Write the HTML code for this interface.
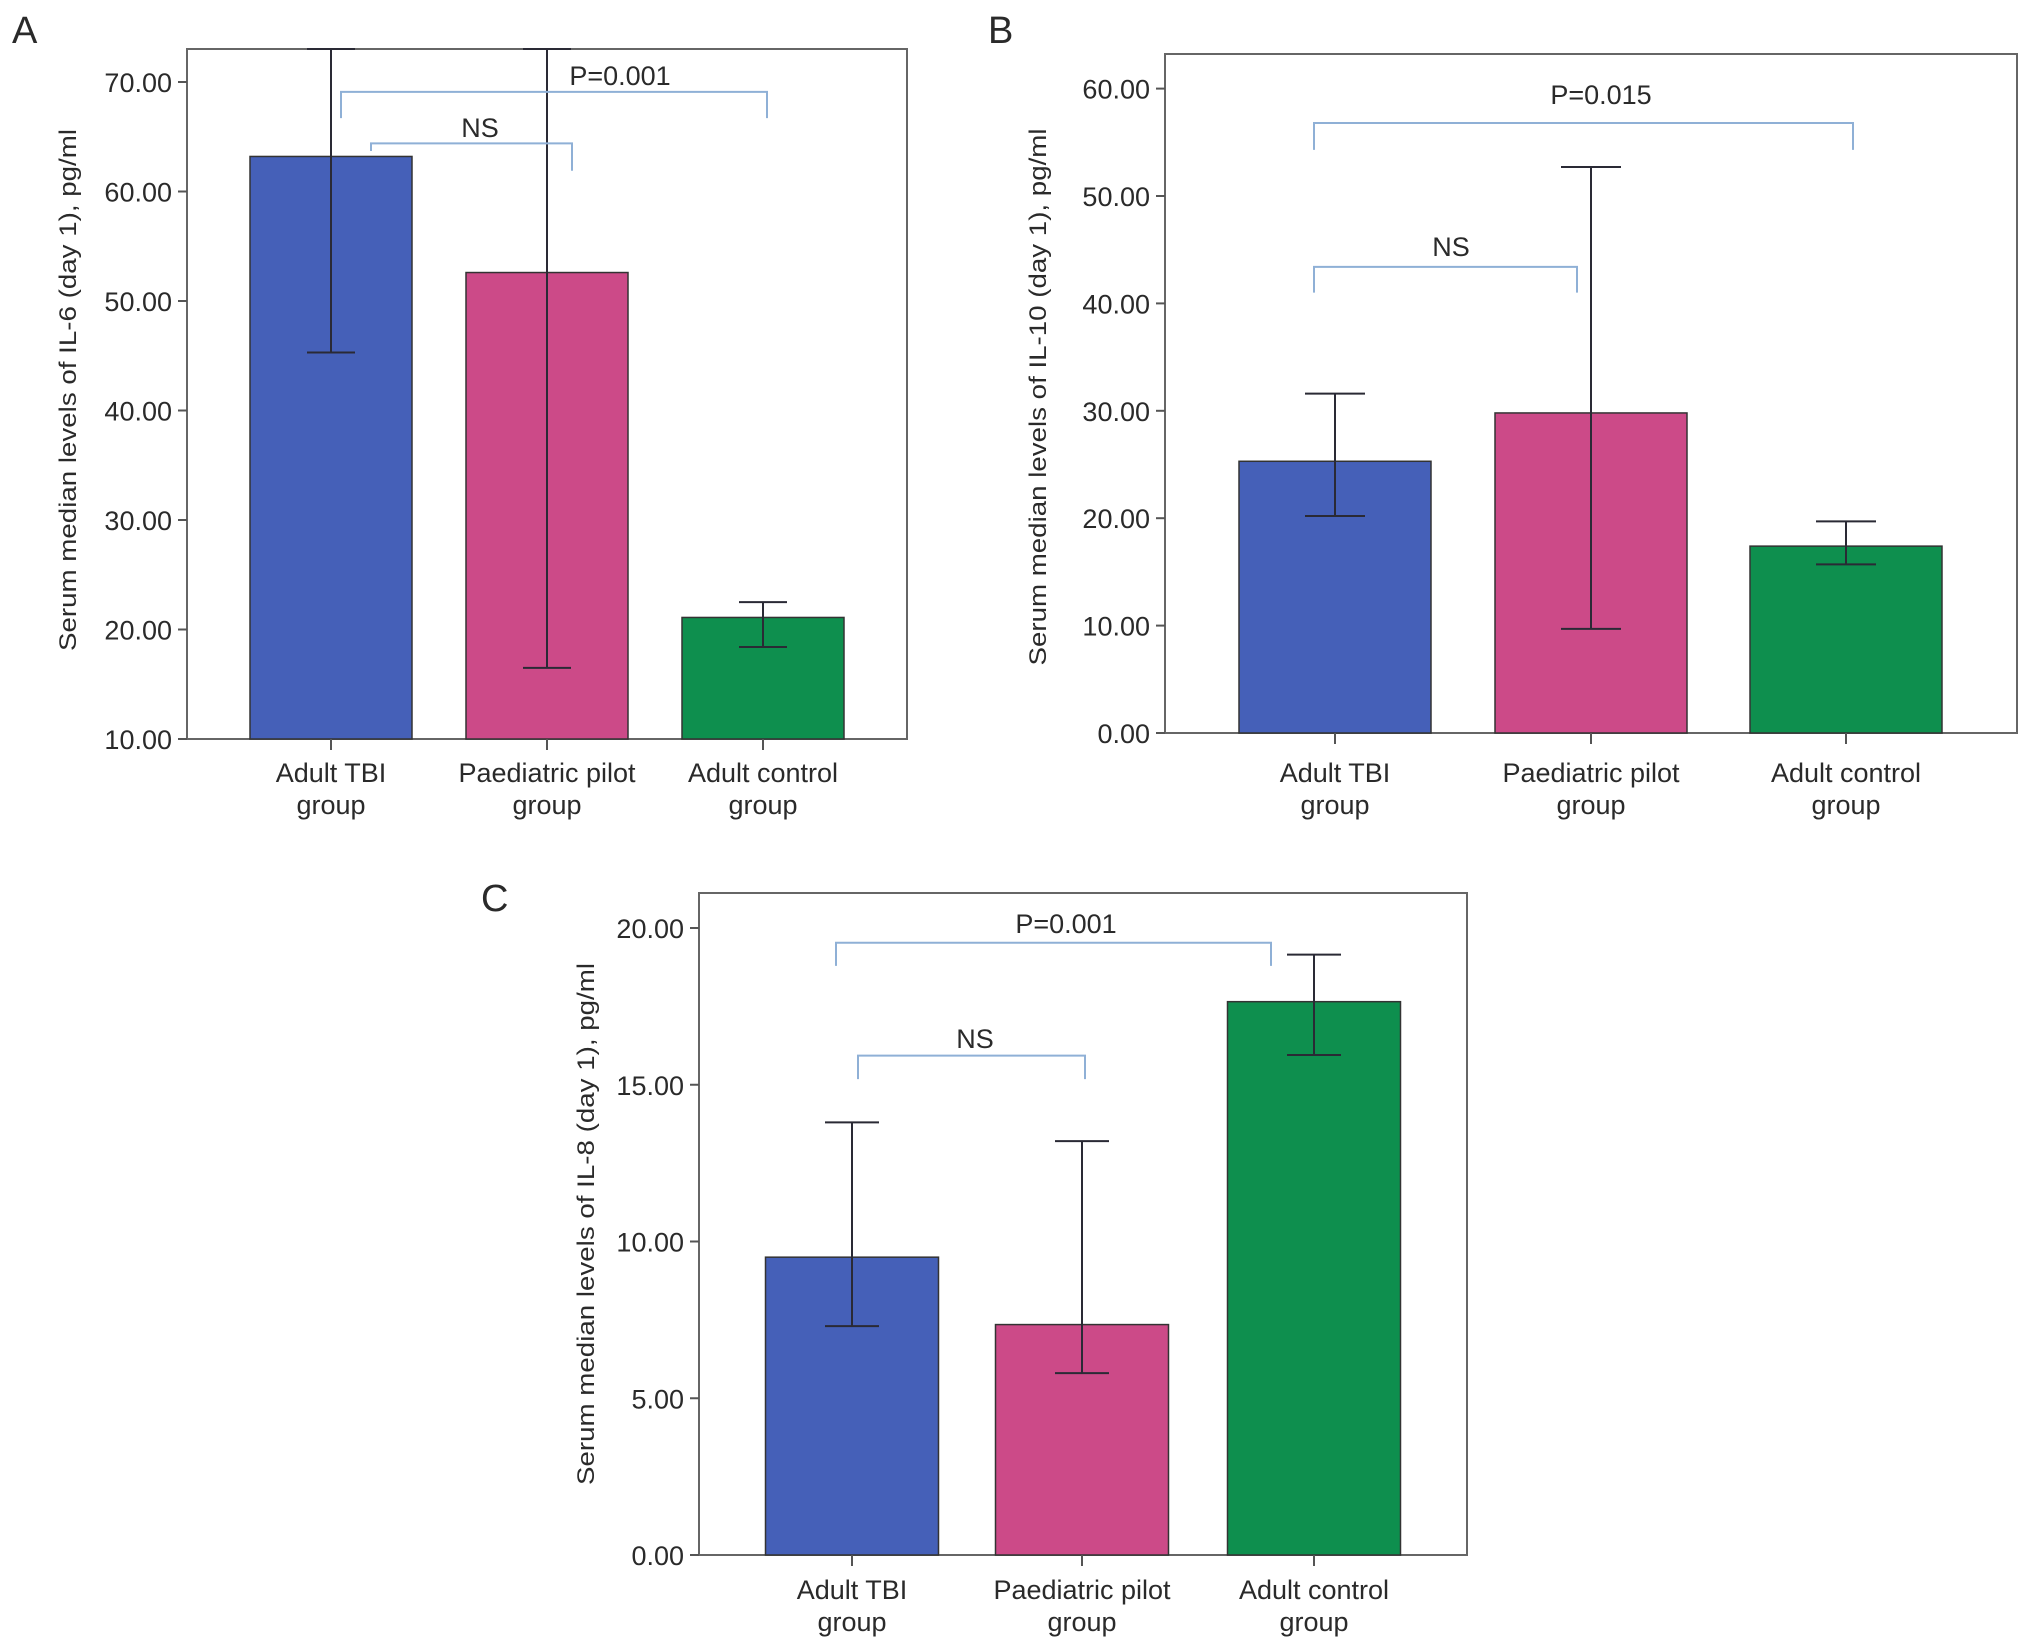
<!DOCTYPE html>
<html><head><meta charset="utf-8"><style>
html,body{margin:0;padding:0;background:#fff}
svg{display:block}
text{font-family:"Liberation Sans",sans-serif;fill:#2a2a2a}
</style></head><body>
<svg id="fig" width="2032" height="1652" viewBox="0 0 2032 1652" xmlns="http://www.w3.org/2000/svg"></svg>
<script>
const categories = ["Adult TBI|group", "Paediatric pilot|group", "Adult control|group"];
const il6Values = [63.2, 52.6, 21.1];
const il6Lower = [45.3, 16.5, 18.4];
const il6Upper = [73.1, 73.1, 22.5];
const il6Ticks = [10, 20, 30, 40, 50, 60, 70];
const il10Values = [25.3, 29.8, 17.4];
const il10Lower = [20.2, 9.7, 15.7];
const il10Upper = [31.6, 52.7, 19.7];
const il10Ticks = [0, 10, 20, 30, 40, 50, 60];
const il8Values = [9.5, 7.35, 17.65];
const il8Lower = [7.3, 5.8, 15.95];
const il8Upper = [13.8, 13.2, 19.15];
const il8Ticks = [0, 5, 10, 15, 20];
const colors = ["#4560b8", "#cc4a88", "#0e8f4e"];

const NS = "http://www.w3.org/2000/svg";
const svg = document.getElementById("fig");
function mk(tag, attrs, parent, txt){
  const e = document.createElementNS(NS, tag);
  for (const k in attrs) e.setAttribute(k, attrs[k]);
  if (txt !== undefined) e.textContent = txt;
  (parent||svg).appendChild(e);
  return e;
}

function panel(cfg){
  const g = mk("g", {});
  
  
  const y = v => cfg.bottom - (v - cfg.vmin) * cfg.ppu;
  const lbl = mk("text", {x: cfg.labelX, y: cfg.labelY, "font-size": 38}, g, cfg.letter);
  
  
  const fr = mk("rect", {x: cfg.left, y: cfg.top, width: cfg.right - cfg.left, height: cfg.bottom - cfg.top, fill: "none", stroke: "#666", "stroke-width": 2}, g);
  
  
  cfg.ticks.forEach(t => {
    const tk = mk("line", {x1: cfg.left - 9, x2: cfg.left, y1: y(t), y2: y(t), stroke: "#555", "stroke-width": 2}, g);
    
    
    const tl = mk("text", {x: cfg.left - 15, y: y(t) + 10, "font-size": 27, "text-anchor": "end"}, g, t.toFixed(2));
    
    
  });
  const at = mk("text", {transform: `translate(${cfg.titleX},${cfg.titleY}) rotate(-90)`, "font-size": 24, "text-anchor": "middle", textLength: cfg.titleLen, lengthAdjust: "spacingAndGlyphs"}, g, cfg.title);
  
  
  cfg.values.forEach((v, i) => {
    const cx = cfg.centers[i];
    const b = mk("rect", {x: cx - cfg.bw/2, y: y(v), width: cfg.bw, height: cfg.bottom - y(v), fill: colors[i], stroke: "#333", "stroke-width": 1.5}, g);
    
    
    const lo = y(cfg.lower[i]), hi = Math.max(y(cfg.upper[i]), cfg.top);
    const eb = mk("path", {d: `M${cx},${lo}V${hi}M${cx-cfg.cap/2},${lo}H${cx+cfg.cap/2}M${cx-cfg.cap/2},${hi}H${cx+cfg.cap/2}`, stroke: "#2a2a35", "stroke-width": 2, fill: "none"}, g);
    
    
    const xt = mk("line", {x1: cx, x2: cx, y1: cfg.bottom, y2: cfg.bottom + 11, stroke: "#555", "stroke-width": 2}, g);
    
    
    const parts = categories[i].split("|");
    const c1 = mk("text", {x: cx, y: cfg.catY, "font-size": 27, "text-anchor": "middle"}, g, parts[0]);
    
    
    const c2 = mk("text", {x: cx, y: cfg.catY + 32, "font-size": 27, "text-anchor": "middle"}, g, parts[1]);
    
    
  });
  cfg.brackets.forEach(br => {
    const p = mk("path", {d: `M${br.x1},${y(br.l1)}V${y(br.v)}H${br.x2}V${y(br.l2)}`, stroke: "#8fb0d6", "stroke-width": 2, fill: "none"}, g);
    
    
    const t = mk("text", {x: br.tx, y: br.ty, "font-size": 27, "text-anchor": "middle"}, g, br.label);
    
    
  });
}

panel({id: "il6", letter: "A", labelX: 12, labelY: 43, left: 187, right: 907, top: 49, bottom: 739, vmin: 10, ppu: 10.95, catY: 782,
  ticks: il6Ticks, values: il6Values, lower: il6Lower, upper: il6Upper, centers: [331, 547, 763], bw: 162, cap: 48,
  title: "Serum median levels of IL-6 (day 1), pg/ml", titleX: 76, titleY: 390, titleLen: 522,
  brackets: [{x1: 341, x2: 767, v: 69.1, l1: 66.7, l2: 66.7, label: "P=0.001", tx: 620, ty: 85},
             {x1: 371, x2: 572, v: 64.4, l1: 63.7, l2: 61.9, label: "NS", tx: 480, ty: 137}]});
panel({id: "il10", letter: "B", labelX: 988, labelY: 43, left: 1165, right: 2017, top: 54, bottom: 733, vmin: 0, ppu: 10.74, catY: 782,
  ticks: il10Ticks, values: il10Values, lower: il10Lower, upper: il10Upper, centers: [1335, 1591, 1846], bw: 192, cap: 60,
  title: "Serum median levels of IL-10 (day 1), pg/ml", titleX: 1046, titleY: 397, titleLen: 537,
  brackets: [{x1: 1314, x2: 1853, v: 56.8, l1: 54.3, l2: 54.3, label: "P=0.015", tx: 1601, ty: 104},
             {x1: 1314, x2: 1577, v: 43.4, l1: 41, l2: 41, label: "NS", tx: 1451, ty: 256}]});
panel({id: "il8", letter: "C", labelX: 481, labelY: 911, left: 699, right: 1467, top: 893, bottom: 1555, vmin: 0, ppu: 31.35, catY: 1599,
  ticks: il8Ticks, values: il8Values, lower: il8Lower, upper: il8Upper, centers: [852, 1082, 1314], bw: 173, cap: 54,
  title: "Serum median levels of IL-8 (day 1), pg/ml", titleX: 594, titleY: 1224, titleLen: 522,
  brackets: [{x1: 836, x2: 1271, v: 19.53, l1: 18.79, l2: 18.79, label: "P=0.001", tx: 1066, ty: 933},
             {x1: 858, x2: 1085, v: 15.93, l1: 15.18, l2: 15.18, label: "NS", tx: 975, ty: 1048}]});
</script>
</body></html>
